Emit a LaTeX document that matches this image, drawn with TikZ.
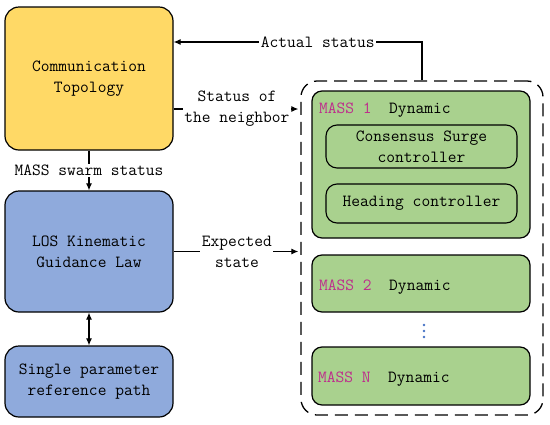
\documentclass[tikz,border=0pt]{standalone}
\usepackage{tikz}
\usetikzlibrary{positioning,arrows.meta,calc}
\definecolor{topoyellow}{RGB}{255,217,102}
\definecolor{losblue}{RGB}{143,170,220}
\definecolor{massgreen}{RGB}{169,209,142}
\definecolor{massname}{RGB}{190,45,140}
\definecolor{dotblue}{RGB}{68,114,196}

\begin{document}
\begin{tikzpicture}[x=1pt,y=-1pt,
    every node/.style={font=\fontsize{17}{21}\selectfont\ttfamily},
    blk/.style={draw,line width=1.2pt,rounded corners=14pt,align=center,inner sep=0pt},
    sub/.style={draw,line width=1.1pt,rounded corners=11pt,align=center,inner sep=0pt,minimum width=191pt},
    lbl/.style={fill=white,inner sep=1.5pt,align=center},
    arr/.style={line width=1.1pt,-{Latex[length=7pt,width=6pt]}},
    biarr/.style={line width=1.1pt,{Latex[length=7pt,width=6pt]}-{Latex[length=7pt,width=6pt]}}]
        \useasboundingbox (0,0) rectangle (550,424);
        % left column
        \node[blk,fill=topoyellow,minimum width=168pt,minimum height=143pt] (topo) at (89,78.5) {Communication\\Topology};
        \node[blk,fill=losblue,minimum width=168pt,minimum height=121pt] (los) at (89,251.5) {LOS Kinematic\\Guidance Law};
        \node[blk,fill=losblue,minimum width=168pt,minimum height=71pt] (refpath) at (89,381.5) {Single parameter\\reference path};
        % MASS group (dashed)
        \node[draw,line width=1.3pt,dash pattern=on 13pt off 7pt,rounded corners=16pt,minimum width=242pt,minimum height=334pt] (swarm) at (422,248) {};
        \node[blk,fill=massgreen,rounded corners=10pt,minimum width=218pt,minimum height=147pt] (mass1) at (421,164.5) {};
        \node[blk,fill=massgreen,rounded corners=10pt,minimum width=218pt,minimum height=57pt] (mass2) at (421,283.5) {};
        \node[blk,fill=massgreen,rounded corners=10pt,minimum width=218pt,minimum height=58pt] (massn) at (421,376) {};
        \node[sub,minimum height=43pt] (surge) at (421.5,146.5) {Consensus Surge\\controller};
        \node[sub,minimum height=39pt] (heading) at (421.5,203.5) {Heading controller};
        \node[anchor=base west,inner sep=0pt] (mass1lbl) at (319,113.5) {\textcolor{massname}{MASS 1}\ \ Dynamic};
        \node[anchor=base west,inner sep=0pt] (mass2lbl) at (319,290.5) {\textcolor{massname}{MASS 2}\ \ Dynamic};
        \node[anchor=base west,inner sep=0pt] (massnlbl) at (318,382.5) {\textcolor{massname}{MASS N}\ \ Dynamic};
        \foreach \y in {325,331,337}
            \fill[dotblue] (424,\y) circle (1.3pt);
        % connectors
        \coordinate (topoin) at (topo.east |- 0,42);
        \coordinate (topoout) at (topo.east |- 0,109);
        \draw[arr] (swarm.north) |- node[lbl,pos=0.71] {Actual status} (topoin);
        \draw[arr,shorten >=2pt] (topoout) -- node[lbl] {Status of\\the neighbor} (topoout -| swarm.west);
        \draw[arr] (topo) -- node[lbl] {MASS swarm status} (los);
        \draw[arr,shorten >=2pt] (los) -- node[lbl] {Expected\\state} (los.east -| swarm.west);
        \draw[biarr] (los) -- (refpath);
\end{tikzpicture}
\end{document}
